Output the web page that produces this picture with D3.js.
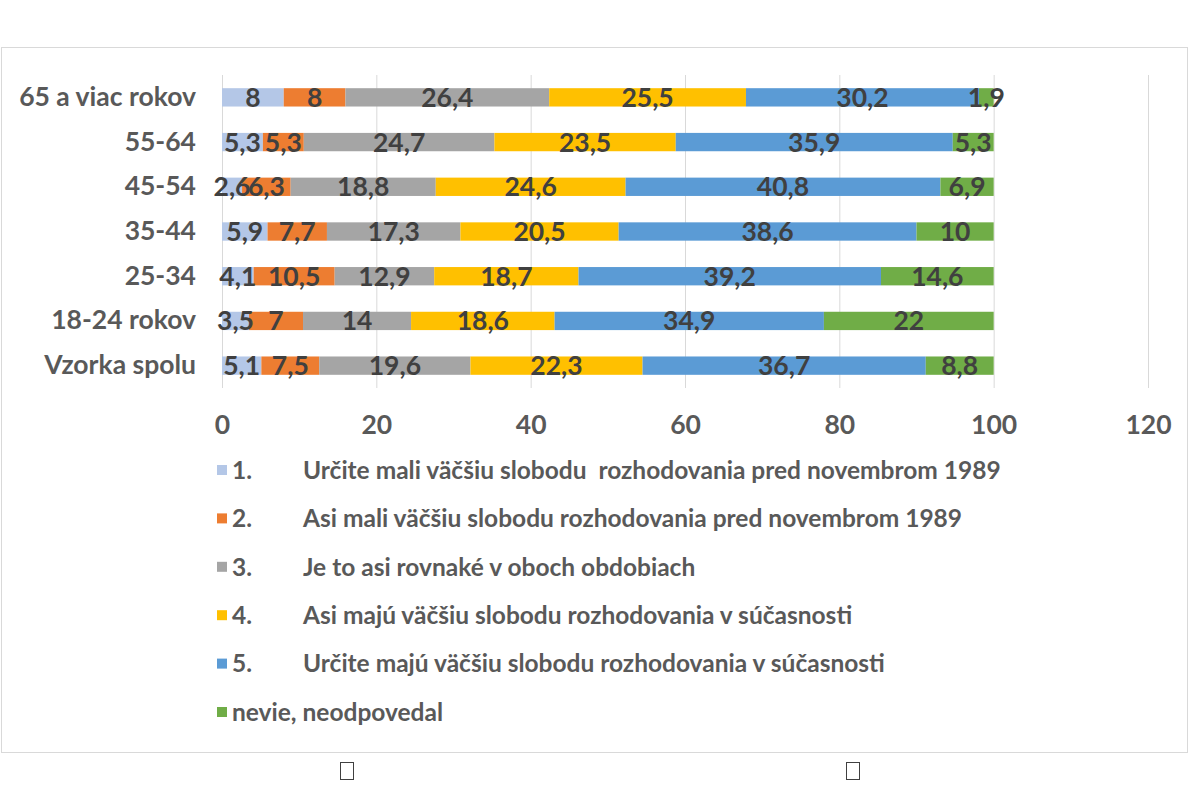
<!DOCTYPE html>
<html>
<head>
<meta charset="utf-8">
<script src="https://cdn.jsdelivr.net/npm/d3@7"></script>
<style>
  body { margin: 0; background: #fff; }
  svg { display: block; font-family: Lato, "Open Sans", sans-serif; }
</style>
</head>
<body>
<div id="chart"></div>
<script>
// categories, top to bottom
const categories = ['65 a viac rokov', '55-64', '45-54', '35-44', '25-34', '18-24 rokov', 'Vzorka spolu'];

const seriesNames = [
    ['1.', 'Určite mali väčšiu slobodu  rozhodovania pred novembrom 1989'],
    ['2.', 'Asi mali väčšiu slobodu rozhodovania pred novembrom 1989'],
    ['3.', 'Je to asi rovnaké v oboch obdobiach'],
    ['4.', 'Asi majú väčšiu slobodu rozhodovania v súčasnosti'],
    ['5.', 'Určite majú väčšiu slobodu rozhodovania v súčasnosti'],
    ['nevie, neodpovedal', '']
];

// one array per series, in category order
const s1 = [8, 5.3, 2.6, 5.9, 4.1, 3.5, 5.1];
const s2 = [8, 5.3, 6.3, 7.7, 10.5, 7, 7.5];
const s3 = [26.4, 24.7, 18.8, 17.3, 12.9, 14, 19.6];
const s4 = [25.5, 23.5, 24.6, 20.5, 18.7, 18.6, 22.3];
const s5 = [30.2, 35.9, 40.8, 38.6, 39.2, 34.9, 36.7];
const s6 = [1.9, 5.3, 6.9, 10, 14.6, 22, 8.8];

const xTicks = [0, 20, 40, 60, 80, 100, 120];
const colors = ['#B4C7E7', '#ED7D31', '#A5A5A5', '#FFC000', '#5B9BD5', '#70AD47'];

const allSeries = [s1, s2, s3, s4, s5, s6];
const rows = categories.map((c, i) => {
    const r = { cat: c };
    allSeries.forEach((s, k) => { r['k' + k] = s[i]; });
    return r;
});
const keys = allSeries.map((s, k) => 'k' + k);
const stacked = d3.stack().keys(keys)(rows);

const W = 1200, H = 800;
const svg = d3.select('#chart').append('svg')
    .attr('width', W)
    .attr('height', H);

// outer chart frame
svg.append('rect')
    .attr('x', 1.5).attr('y', 47.5)
    .attr('width', 1186).attr('height', 705)
    .attr('fill', 'none')
    .attr('stroke', '#d9d9d9')
    .attr('stroke-width', 1);

const x = d3.scaleLinear().domain([0, 120]).range([222, 1148]);
const y = d3.scaleBand().domain(categories).range([75, 388]).paddingInner(0.59).paddingOuter(0.295);

// gridlines
svg.append('g').selectAll('line')
    .data(xTicks)
    .join('line')
    .attr('x1', d => x(d) + 0.5).attr('x2', d => x(d) + 0.5)
    .attr('y1', 75).attr('y2', 388)
    .attr('stroke', '#d9d9d9')
    .attr('stroke-width', 1);

const labelFont = '26.5px';

// x axis
const xAxis = svg.append('g')
    .attr('transform', 'translate(0,388)')
    .call(d3.axisBottom(x).tickValues(xTicks).tickSize(0).tickPadding(27));
xAxis.select('.domain').remove();
xAxis.selectAll('text')
    .attr('fill', '#595959')
    .style('font-size', labelFont)
    .style('font-weight', '700')
    .style('font-family', 'Lato, sans-serif');

// y axis
const yAxis = svg.append('g')
    .attr('transform', 'translate(196,0)')
    .call(d3.axisLeft(y).tickSize(0).tickPadding(0));
yAxis.select('.domain').remove();
yAxis.selectAll('text')
    .attr('fill', '#595959')
    .style('font-size', labelFont)
    .style('font-weight', '700')
    .style('font-family', 'Lato, sans-serif');

// bars
const fmt = v => String(v).replace('.', ',');
const layers = svg.append('g').selectAll('g.layer')
    .data(stacked)
    .join('g')
    .attr('class', 'layer')
    .attr('fill', (d, i) => colors[i]);

layers.selectAll('rect')
    .data(d => d)
    .join('rect')
    .attr('x', d => x(d[0]))
    .attr('y', d => y(d.data.cat))
    .attr('width', d => x(d[1]) - x(d[0]))
    .attr('height', y.bandwidth());

// data labels
svg.append('g').selectAll('g.lbl')
    .data(stacked)
    .join('g')
    .attr('class', 'lbl')
    .selectAll('text')
    .data(d => d.map(p => ({ p, v: p[1] - p[0] })))
    .join('text')
    .attr('x', d => x((d.p[0] + d.p[1]) / 2))
    .attr('y', d => y(d.p.data.cat) + y.bandwidth() / 2)
    .attr('dy', '0.36em')
    .attr('text-anchor', 'middle')
    .attr('fill', '#404040')
    .style('font-size', labelFont)
    .style('font-weight', '700')
    .text(d => fmt(Math.round(d.v * 10) / 10));

// legend
const legend = svg.append('g');
const legendTop = 470, legendStep = 48.4;
const item = legend.selectAll('g')
    .data(seriesNames)
    .join('g')
    .attr('transform', (d, i) => `translate(217,${legendTop + i * legendStep})`);

item.append('rect')
    .attr('x', 0).attr('y', -5)
    .attr('width', 10).attr('height', 10)
    .attr('fill', (d, i) => colors[i]);

item.append('text')
    .attr('x', 15).attr('dy', '0.36em')
    .attr('fill', '#595959')
    .style('font-size', '24.5px')
    .style('font-weight', '700')
    .text(d => d[0]);

item.append('text')
    .attr('x', 86).attr('dy', '0.36em')
    .attr('fill', '#595959')
    .style('font-size', '24.5px')
    .style('font-weight', '700')
    .style('white-space', 'pre')
    .text(d => d[1]);

// placeholder boxes below the frame
svg.append('g').selectAll('rect')
    .data([347, 853])
    .join('rect')
    .attr('x', d => d - 6.5).attr('y', 762.5)
    .attr('width', 13).attr('height', 17)
    .attr('fill', 'none')
    .attr('stroke', '#404040')
    .attr('stroke-width', 1);
</script>
</body>
</html>
